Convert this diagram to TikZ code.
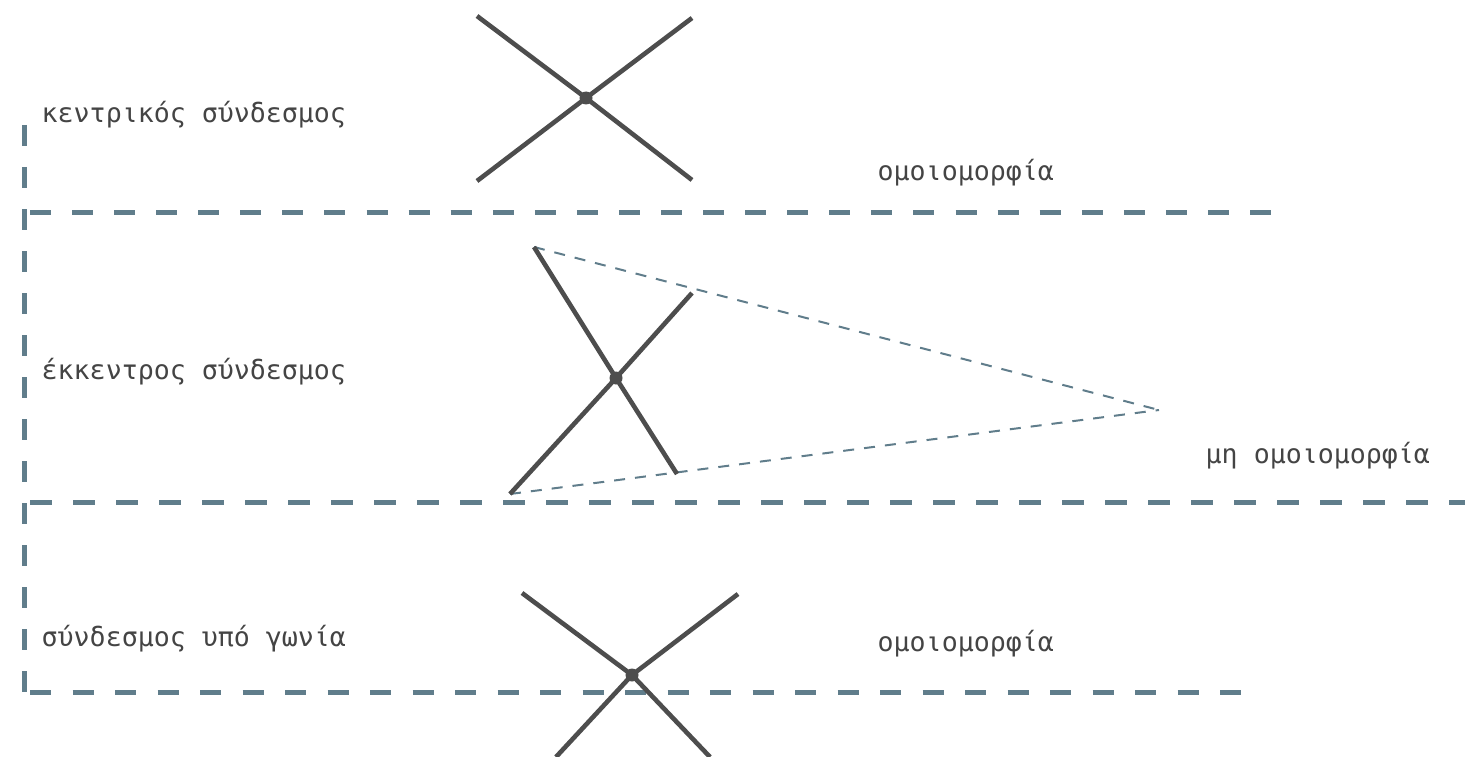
\documentclass[tikz,border=0pt]{standalone}
\usepackage{fontspec}
\newfontfamily\labelfont{DejaVu Sans Mono}
\definecolor{rod}{RGB}{77,77,77}
\definecolor{txt}{RGB}{68,68,68}
\definecolor{frame}{RGB}{96,125,139}
\tikzset{
  rodline/.style={draw=rod, line width=4.6pt},
  joint/.style={circle, fill=rod, inner sep=0pt, minimum size=13pt},
  framedash/.style={draw=frame, line width=5pt, dash pattern=on 21pt off 21pt},
  guide/.style={draw=frame, line width=2pt, dash pattern=on 11pt off 10pt},
  lbl/.style={anchor=base west, inner sep=0pt, text=txt,
    font=\labelfont\fontsize{26.6}{30}\selectfont}
}
\begin{document}
\begin{tikzpicture}[x=1pt,y=-1pt]
\useasboundingbox (0,0) rectangle (1465,757);

% group frames
\coordinate (vtop) at (24.5,125);
\coordinate (vbot) at (24.5,692);
\coordinate (h1a) at (30,212.5);   \coordinate (h1b) at (1271,212.5);
\coordinate (h2a) at (30,502.5);   \coordinate (h2b) at (1465,502.5);
\coordinate (h3a) at (30,692.5);   \coordinate (h3b) at (1242,692.5);
\path[framedash] (vtop) -- (vbot);
\path[framedash, dash pattern=on 21pt off 21.07pt] (h1a) -- (h1b);
\path[framedash, dash pattern=on 21.5pt off 21.5pt] (h2a) -- (h2b);
\path[framedash, dash pattern=on 21.25pt off 21.25pt] (h3a) -- (h3b);

% central link
\node[joint] (c1) at (586,98) {};
\coordinate (c1nw) at (477,16);  \coordinate (c1se) at (692,180);
\coordinate (c1ne) at (692,18);  \coordinate (c1sw) at (477,181);
\path[rodline] (c1nw) -- (c1.center) -- (c1se);
\path[rodline] (c1ne) -- (c1.center) -- (c1sw);

% eccentric link
\node[joint] (c2) at (616,378) {};
\coordinate (c2nw) at (534,247);  \coordinate (c2se) at (677,474);
\coordinate (c2ne) at (692,293);  \coordinate (c2sw) at (510,494);
\coordinate (apex) at (1159,410);
\path[guide] (c2nw) -- (apex);
\path[guide] (c2sw) -- (apex);
\path[rodline] (c2nw) -- (c2.center) -- (c2se);
\path[rodline] (c2ne) -- (c2.center) -- (c2sw);

% angled link
\node[joint] (c3) at (632,675) {};
\coordinate (c3nw) at (522,593);  \coordinate (c3se) at (710,757);
\coordinate (c3ne) at (738,594);  \coordinate (c3sw) at (556,757);
\path[rodline] (c3nw) -- (c3.center) -- (c3se);
\path[rodline] (c3ne) -- (c3.center) -- (c3sw);

% labels
\node[lbl] (l1) at (41.5,123) {κεντρικός σύνδεσμος};
\node[lbl] (r1) at (877.5,180) {ομοιομορφία};
\node[lbl] (l2) at (41.5,379) {έκκεντρος σύνδεσμος};
\node[lbl] (r2) at (1205.5,463) {μη ομοιομορφία};
\node[lbl] (l3) at (41.5,646) {σύνδεσμος υπό γωνία};
\node[lbl] (r3) at (877.5,651) {ομοιομορφία};
\end{tikzpicture}
\end{document}
